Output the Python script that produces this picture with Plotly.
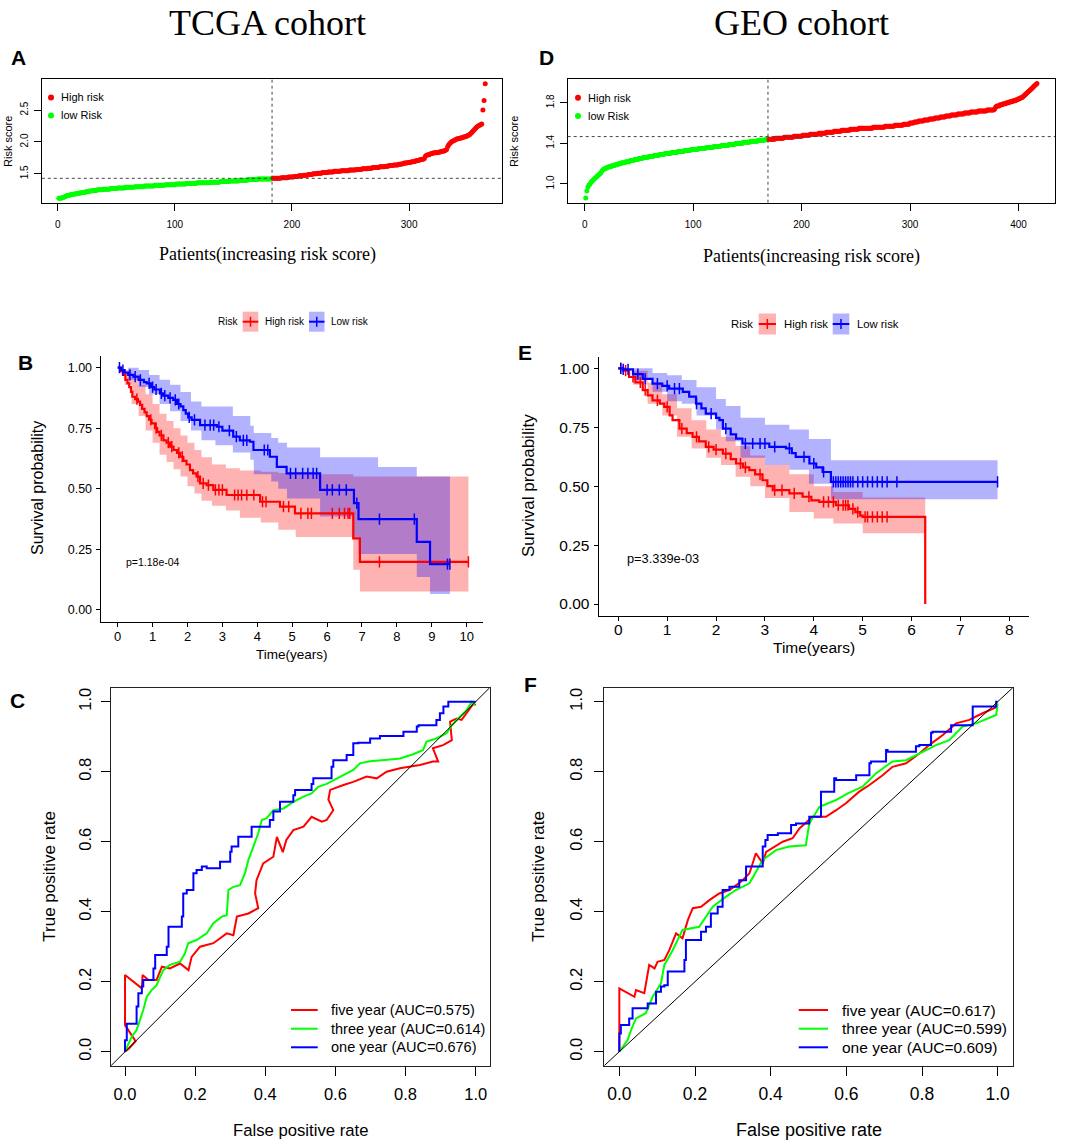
import plotly.graph_objects as go

# ============================ DATA ============================
# Risk score curves (sorted, one value per patient)
tcga_low_risk = [
    1.12,1.12,1.12,1.13,1.13,1.14,1.15,1.16,1.16,1.17,1.17,1.18,1.18,1.18,1.19,1.19,1.19,1.20,1.20,1.20,
    1.21,1.21,1.21,1.22,1.22,1.22,1.23,1.23,1.23,1.24,1.24,1.24,1.24,1.25,1.25,1.25,1.25,1.25,1.26,1.26,
    1.26,1.26,1.26,1.26,1.27,1.27,1.27,1.27,1.27,1.27,1.28,1.28,1.28,1.28,1.28,1.28,1.28,1.29,1.29,1.29,
    1.29,1.29,1.29,1.29,1.29,1.30,1.30,1.30,1.30,1.30,1.30,1.30,1.30,1.31,1.31,1.31,1.31,1.31,1.31,1.31,
    1.31,1.31,1.32,1.32,1.32,1.32,1.32,1.32,1.32,1.32,1.32,1.33,1.33,1.33,1.33,1.33,1.33,1.33,1.33,1.33,
    1.34,1.34,1.34,1.34,1.34,1.34,1.34,1.34,1.34,1.35,1.35,1.35,1.35,1.35,1.35,1.35,1.35,1.35,1.36,1.36,
    1.36,1.36,1.36,1.36,1.36,1.36,1.36,1.36,1.36,1.37,1.37,1.37,1.37,1.37,1.37,1.37,1.37,1.37,1.38,1.38,
    1.38,1.38,1.38,1.38,1.38,1.38,1.39,1.39,1.39,1.39,1.39,1.39,1.39,1.39,1.40,1.40,1.40,1.40,1.40,1.40,
    1.40,1.40,1.41,1.41,1.41,1.41,1.41,1.41,1.41,1.41,1.42,1.42,1.42,1.42,1.42,1.42,1.42,1.42,1.42,1.42,
    1.42,1.42,1.43]
tcga_high_risk = [
    1.43,1.43,1.43,1.43,1.43,1.43,1.43,1.44,1.44,1.44,1.44,1.44,1.44,1.45,1.45,1.45,1.45,1.45,1.46,1.46,
    1.46,1.46,1.47,1.47,1.47,1.47,1.48,1.48,1.48,1.48,1.49,1.49,1.49,1.49,1.50,1.50,1.50,1.50,1.51,1.51,
    1.51,1.51,1.52,1.52,1.52,1.52,1.52,1.53,1.53,1.53,1.53,1.53,1.54,1.54,1.54,1.54,1.54,1.54,1.55,1.55,
    1.55,1.55,1.55,1.55,1.55,1.56,1.56,1.56,1.56,1.56,1.56,1.57,1.57,1.57,1.57,1.57,1.58,1.58,1.58,1.58,
    1.58,1.59,1.59,1.59,1.59,1.60,1.60,1.60,1.60,1.60,1.60,1.61,1.61,1.61,1.61,1.61,1.62,1.62,1.62,1.63,
    1.63,1.63,1.63,1.64,1.64,1.64,1.64,1.65,1.65,1.65,1.66,1.66,1.67,1.67,1.67,1.68,1.68,1.68,1.69,1.69,
    1.69,1.70,1.70,1.71,1.71,1.72,1.72,1.73,1.73,1.74,1.78,1.79,1.80,1.80,1.81,1.82,1.82,1.83,1.83,1.83,
    1.83,1.84,1.84,1.85,1.85,1.86,1.86,1.87,1.88,1.93,1.96,1.98,2.00,2.01,2.02,2.03,2.04,2.05,2.05,2.06,
    2.06,2.07,2.07,2.08,2.08,2.09,2.10,2.11,2.12,2.14,2.16,2.18,2.20,2.22,2.24,2.25,2.26,2.27,2.28,2.50,
    2.65,2.91]
tcga_cutoff = 1.43

geo_low_risk = [
    0.86,0.93,0.97,0.99,1.00,1.02,1.03,1.04,1.05,1.06,1.07,1.08,1.09,1.10,1.11,1.13,1.14,1.15,1.15,1.16,
    1.16,1.17,1.17,1.17,1.18,1.18,1.18,1.19,1.19,1.19,1.20,1.20,1.20,1.21,1.21,1.21,1.21,1.22,1.22,1.22,
    1.22,1.23,1.23,1.23,1.23,1.24,1.24,1.24,1.24,1.25,1.25,1.25,1.25,1.26,1.26,1.26,1.26,1.26,1.27,1.27,
    1.27,1.27,1.27,1.28,1.28,1.28,1.28,1.28,1.29,1.29,1.29,1.29,1.29,1.30,1.30,1.30,1.30,1.30,1.30,1.31,
    1.31,1.31,1.31,1.31,1.31,1.32,1.32,1.32,1.32,1.32,1.32,1.33,1.33,1.33,1.33,1.33,1.33,1.34,1.34,1.34,
    1.34,1.34,1.34,1.34,1.35,1.35,1.35,1.35,1.35,1.35,1.35,1.36,1.36,1.36,1.36,1.36,1.36,1.36,1.37,1.37,
    1.37,1.37,1.37,1.37,1.37,1.38,1.38,1.38,1.38,1.38,1.38,1.38,1.39,1.39,1.39,1.39,1.39,1.39,1.40,1.40,
    1.40,1.40,1.40,1.40,1.40,1.41,1.41,1.41,1.41,1.41,1.41,1.41,1.42,1.42,1.42,1.42,1.42,1.42,1.42,1.43,
    1.43,1.43,1.43,1.43,1.43,1.43,1.44,1.44,1.44]
geo_high_risk = [
    1.44,1.44,1.44,1.44,1.44,1.44,1.45,1.45,1.45,1.45,1.45,1.45,1.45,1.45,1.46,1.46,1.46,1.46,1.46,1.46,
    1.46,1.46,1.46,1.47,1.47,1.47,1.47,1.47,1.47,1.47,1.47,1.48,1.48,1.48,1.48,1.48,1.48,1.48,1.49,1.49,
    1.49,1.49,1.49,1.49,1.49,1.49,1.50,1.50,1.50,1.50,1.50,1.50,1.50,1.51,1.51,1.51,1.51,1.51,1.51,1.51,
    1.52,1.52,1.52,1.52,1.52,1.52,1.52,1.53,1.53,1.53,1.53,1.53,1.53,1.53,1.53,1.54,1.54,1.54,1.54,1.54,
    1.54,1.54,1.54,1.55,1.55,1.55,1.55,1.55,1.55,1.55,1.55,1.55,1.55,1.55,1.55,1.55,1.56,1.56,1.56,1.56,
    1.56,1.56,1.56,1.56,1.56,1.56,1.56,1.57,1.57,1.57,1.57,1.57,1.57,1.57,1.57,1.57,1.58,1.58,1.58,1.58,
    1.58,1.58,1.58,1.58,1.59,1.59,1.59,1.59,1.59,1.59,1.60,1.60,1.60,1.60,1.61,1.61,1.61,1.61,1.62,1.62,
    1.62,1.62,1.62,1.63,1.63,1.63,1.63,1.63,1.64,1.64,1.64,1.64,1.64,1.65,1.65,1.65,1.65,1.65,1.66,1.66,
    1.66,1.66,1.66,1.67,1.67,1.67,1.67,1.67,1.68,1.68,1.68,1.68,1.68,1.68,1.69,1.69,1.69,1.69,1.69,1.69,
    1.70,1.70,1.70,1.70,1.70,1.70,1.71,1.71,1.71,1.71,1.71,1.71,1.71,1.72,1.72,1.72,1.72,1.72,1.72,1.72,
    1.72,1.73,1.73,1.73,1.73,1.73,1.73,1.73,1.74,1.76,1.77,1.77,1.77,1.78,1.78,1.78,1.79,1.79,1.79,1.80,
    1.80,1.80,1.81,1.81,1.81,1.82,1.82,1.82,1.83,1.83,1.84,1.84,1.85,1.85,1.86,1.87,1.88,1.89,1.90,1.91,
    1.92,1.93,1.94,1.95,1.96,1.97,1.98,1.99]
geo_cutoff = 1.467

risk_xticks_tcga = [0, 100, 200, 300]
risk_yticks_tcga = [1.5, 2.0, 2.5]
risk_xticks_geo = [0, 100, 200, 300, 400]
risk_yticks_geo = [1.0, 1.4, 1.8]

# Kaplan-Meier curves: (time in years, survival after step)
tcga_high_steps = [(0, 1.0), (0.08, 0.985), (0.15, 0.97), (0.22, 0.95), (0.28, 0.935), (0.33, 0.92),
    (0.38, 0.90), (0.42, 0.88), (0.50, 0.87), (0.58, 0.86), (0.64, 0.846), (0.70, 0.83), (0.77, 0.815),
    (0.83, 0.80), (0.90, 0.785), (0.97, 0.77), (1.07, 0.75), (1.13, 0.735), (1.20, 0.72), (1.31, 0.70),
    (1.40, 0.69), (1.50, 0.674), (1.60, 0.66), (1.70, 0.648), (1.79, 0.632), (1.88, 0.615), (1.97, 0.60),
    (2.07, 0.577), (2.16, 0.563), (2.26, 0.55), (2.36, 0.522), (2.55, 0.515), (2.74, 0.495), (3.12, 0.474),
    (4.08, 0.446), (4.65, 0.426), (5.08, 0.398), (6.75, 0.295), (6.94, 0.198)]
tcga_high_end = 10.05
tcga_high_censor = [0.55, 0.95, 1.1, 1.25, 1.45, 1.55, 1.75, 1.85, 2.3, 2.45, 2.6, 2.8, 2.9, 3.0, 3.35,
    3.45, 3.55, 3.7, 3.9, 4.15, 4.25, 4.75, 4.9, 5.25, 5.45, 5.55, 6.15, 6.35, 6.5, 6.6, 6.65, 7.5, 10.05]
tcga_low_steps = [(0, 1.0), (0.10, 0.99), (0.20, 0.98), (0.30, 0.97), (0.45, 0.963), (0.60, 0.95),
    (0.75, 0.94), (0.83, 0.935), (0.95, 0.92), (1.05, 0.91), (1.21, 0.894), (1.30, 0.885), (1.45, 0.875),
    (1.59, 0.867), (1.70, 0.85), (1.80, 0.84), (1.88, 0.825), (1.95, 0.81), (2.02, 0.795), (2.12, 0.784),
    (2.36, 0.763), (2.84, 0.756), (3.00, 0.74), (3.31, 0.715), (3.50, 0.70), (3.79, 0.694), (3.89, 0.66),
    (4.36, 0.632), (4.56, 0.59), (4.84, 0.563), (5.80, 0.495), (6.77, 0.44), (6.90, 0.374), (8.57, 0.28),
    (8.95, 0.188)]
tcga_low_end = 9.52
tcga_low_censor = [0.05, 0.15, 0.35, 0.5, 0.65, 0.9, 1.0, 1.1, 1.25, 1.35, 1.5, 1.65, 1.75, 2.05, 2.2,
    2.5, 2.65, 2.75, 2.9, 3.2, 3.4, 3.6, 3.7, 4.2, 4.3, 4.95, 5.1, 5.3, 5.45, 5.6, 5.7, 6.0, 6.15, 6.35,
    6.55, 6.85, 7.5, 8.5, 9.45, 9.52]
# confidence bands: (time, lower, upper)
tcga_high_band = [(0, 1.0, 1.0), (0.2, 0.93, 0.99), (0.4, 0.85, 0.96), (0.6, 0.80, 0.93), (0.8, 0.74, 0.89),
    (1.0, 0.69, 0.85), (1.2, 0.64, 0.81), (1.4, 0.61, 0.78), (1.6, 0.58, 0.75), (1.8, 0.55, 0.72),
    (2.0, 0.51, 0.69), (2.2, 0.48, 0.66), (2.4, 0.45, 0.63), (2.7, 0.43, 0.60), (3.1, 0.41, 0.585),
    (3.5, 0.38, 0.575), (4.1, 0.36, 0.57), (4.6, 0.33, 0.565), (5.1, 0.30, 0.56), (6.75, 0.165, 0.55),
    (6.94, 0.075, 0.55), (10.05, 0.075, 0.55)]
tcga_low_band = [(0, 1.0, 1.0), (0.3, 0.95, 1.0), (0.6, 0.92, 0.99), (0.9, 0.89, 0.97), (1.2, 0.85, 0.95),
    (1.5, 0.82, 0.93), (1.8, 0.78, 0.90), (2.1, 0.74, 0.86), (2.4, 0.70, 0.84), (2.8, 0.68, 0.84),
    (3.3, 0.65, 0.80), (3.8, 0.62, 0.76), (3.9, 0.56, 0.73), (4.4, 0.53, 0.71), (4.6, 0.50, 0.69),
    (4.85, 0.46, 0.67), (5.8, 0.385, 0.63), (6.77, 0.30, 0.63), (6.9, 0.23, 0.63), (7.46, 0.23, 0.59),
    (8.57, 0.135, 0.55), (8.95, 0.065, 0.55), (9.52, 0.065, 0.55)]

geo_high_steps = [(0, 1.0), (0.10, 0.99), (0.22, 0.963), (0.35, 0.94), (0.50, 0.907), (0.60, 0.885),
    (0.70, 0.864), (0.85, 0.85), (0.94, 0.836), (1.05, 0.80), (1.11, 0.78), (1.25, 0.744), (1.40, 0.725),
    (1.52, 0.709), (1.65, 0.69), (1.79, 0.667), (1.95, 0.655), (2.14, 0.638), (2.30, 0.615), (2.41, 0.596),
    (2.55, 0.58), (2.68, 0.568), (2.80, 0.55), (2.95, 0.525), (3.05, 0.50), (3.16, 0.483), (3.50, 0.469),
    (3.77, 0.455), (3.95, 0.44), (4.11, 0.433), (4.45, 0.419), (4.72, 0.404), (4.85, 0.39), (4.95, 0.375),
    (5.00, 0.37), (6.28, 0.0)]
geo_high_end = 6.28
geo_high_censor = [0.05, 0.15, 0.3, 0.45, 0.55, 0.8, 1.0, 1.3, 1.6, 1.85, 2.0, 2.2, 2.5, 2.6, 2.9, 3.2,
    3.35, 3.6, 3.9, 4.2, 4.3, 4.4, 4.5, 4.6, 4.65, 4.7, 4.8, 4.9, 5.05, 5.1, 5.2, 5.3, 5.4, 5.5]
geo_low_steps = [(0, 1.0), (0.10, 0.995), (0.30, 0.975), (0.50, 0.955), (0.70, 0.935), (0.90, 0.925),
    (1.04, 0.914), (1.32, 0.90), (1.45, 0.88), (1.59, 0.85), (1.70, 0.83), (1.79, 0.808), (2.00, 0.79),
    (2.07, 0.78), (2.14, 0.744), (2.30, 0.72), (2.41, 0.702), (2.54, 0.681), (3.09, 0.667), (3.43, 0.66),
    (3.55, 0.64), (3.63, 0.624), (3.91, 0.596), (4.05, 0.58), (4.18, 0.56), (4.35, 0.518)]
geo_low_end = 7.76
geo_low_censor = [0.05, 0.1, 0.2, 0.4, 0.55, 0.8, 1.0, 1.15, 1.25, 1.6, 1.9, 2.2, 2.6, 2.75, 2.9, 3.0,
    3.2, 3.5, 3.8, 4.0, 4.2, 4.4, 4.45, 4.5, 4.55, 4.6, 4.65, 4.7, 4.75, 4.8, 4.9, 5.0, 5.1, 5.2, 5.3,
    5.4, 5.5, 5.7, 7.76]
geo_high_band = [(0, 1.0, 1.0), (0.3, 0.93, 0.99), (0.6, 0.85, 0.94), (0.9, 0.80, 0.89), (1.2, 0.71, 0.83),
    (1.5, 0.66, 0.78), (1.8, 0.62, 0.74), (2.1, 0.59, 0.71), (2.4, 0.54, 0.67), (2.7, 0.50, 0.63),
    (3.0, 0.45, 0.59), (3.5, 0.39, 0.55), (4.0, 0.363, 0.50), (4.4, 0.342, 0.475), (5.0, 0.30, 0.452),
    (6.28, 0.30, 0.452)]
geo_low_band = [(0, 1.0, 1.0), (0.3, 0.95, 1.0), (0.7, 0.90, 0.98), (1.0, 0.86, 0.97), (1.3, 0.85, 0.95),
    (1.6, 0.80, 0.92), (2.0, 0.74, 0.87), (2.2, 0.69, 0.84), (2.5, 0.62, 0.79), (3.0, 0.59, 0.76),
    (3.5, 0.57, 0.74), (3.9, 0.51, 0.70), (4.35, 0.444, 0.61), (7.76, 0.444, 0.61)]
tcga_pvalue = "p=1.18e-04"
geo_pvalue = "p=3.339e-03"
km_xticks_tcga = list(range(0, 11))
km_xticks_geo = list(range(0, 9))
km_yticks = [0.0, 0.25, 0.5, 0.75, 1.0]

# ROC curves: (false positive rate, true positive rate)
tcga_roc_5y = [(0, 0), (0.012, 0.01), (0.03, 0.03), (0.0, 0.076), (0.0, 0.219), (0.048, 0.181), (0.05, 0.219),
    (0.067, 0.205), (0.09, 0.205), (0.105, 0.243), (0.128, 0.238), (0.157, 0.252), (0.181, 0.233),
    (0.19, 0.271), (0.214, 0.3), (0.252, 0.31), (0.29, 0.338), (0.309, 0.333), (0.319, 0.386),
    (0.352, 0.395), (0.38, 0.41), (0.371, 0.452), (0.375, 0.49), (0.394, 0.538), (0.423, 0.557),
    (0.433, 0.614), (0.45, 0.57), (0.46, 0.605), (0.48, 0.633), (0.509, 0.643), (0.532, 0.671),
    (0.561, 0.657), (0.575, 0.662), (0.594, 0.69), (0.58, 0.72), (0.585, 0.748), (0.623, 0.762),
    (0.651, 0.771), (0.689, 0.786), (0.718, 0.781), (0.746, 0.8), (0.784, 0.81), (0.841, 0.819),
    (0.878, 0.829), (0.893, 0.829), (0.878, 0.867), (0.907, 0.876), (0.932, 0.89), (0.927, 0.943),
    (0.946, 0.952), (0.96, 0.948), (0.979, 0.976), (0.994, 0.995), (1.0, 0.99)]
tcga_roc_3y = [(0, 0), (0.01, 0.024), (0.019, 0.043), (0.033, 0.062), (0.043, 0.09), (0.052, 0.119),
    (0.062, 0.157), (0.076, 0.176), (0.09, 0.19), (0.1, 0.214), (0.109, 0.233), (0.128, 0.248),
    (0.157, 0.257), (0.171, 0.281), (0.18, 0.31), (0.204, 0.319), (0.233, 0.338), (0.252, 0.367),
    (0.276, 0.386), (0.29, 0.39), (0.295, 0.462), (0.309, 0.471), (0.328, 0.476), (0.342, 0.51),
    (0.352, 0.548), (0.366, 0.586), (0.38, 0.624), (0.39, 0.662), (0.404, 0.667), (0.423, 0.69),
    (0.452, 0.695), (0.48, 0.714), (0.509, 0.729), (0.532, 0.738), (0.551, 0.757), (0.575, 0.765),
    (0.604, 0.781), (0.632, 0.795), (0.651, 0.805), (0.67, 0.824), (0.699, 0.83), (0.756, 0.835),
    (0.784, 0.838), (0.822, 0.85), (0.85, 0.862), (0.86, 0.886), (0.888, 0.895), (0.917, 0.91),
    (0.932, 0.933), (0.955, 0.957), (0.974, 0.976), (0.989, 1.0), (0.998, 0.99)]
tcga_roc_1y = [(0, 0), (0.005, 0.033), (0.014, 0.08), (0.033, 0.08), (0.038, 0.129), (0.048, 0.167),
    (0.052, 0.186), (0.067, 0.205), (0.081, 0.205), (0.086, 0.238), (0.1, 0.276), (0.119, 0.276),
    (0.124, 0.3), (0.133, 0.357), (0.162, 0.357), (0.166, 0.386), (0.176, 0.452), (0.195, 0.462),
    (0.204, 0.51), (0.219, 0.519), (0.233, 0.529), (0.271, 0.524), (0.28, 0.543), (0.3, 0.543),
    (0.304, 0.571), (0.323, 0.586), (0.328, 0.614), (0.361, 0.614), (0.366, 0.643), (0.413, 0.643),
    (0.423, 0.662), (0.442, 0.686), (0.447, 0.714), (0.48, 0.714), (0.485, 0.733), (0.532, 0.748),
    (0.537, 0.765), (0.556, 0.781), (0.589, 0.781), (0.594, 0.814), (0.632, 0.833), (0.651, 0.848),
    (0.665, 0.881), (0.699, 0.883), (0.727, 0.895), (0.737, 0.902), (0.794, 0.902), (0.798, 0.914),
    (0.832, 0.914), (0.837, 0.929), (0.888, 0.933), (0.898, 0.948), (0.908, 0.967), (0.922, 0.986),
    (0.946, 1.0), (1.0, 1.0)]
geo_roc_5y = [(0, 0), (0.0, 0.181), (0.04, 0.157), (0.044, 0.176), (0.066, 0.167), (0.079, 0.248),
    (0.093, 0.238), (0.101, 0.257), (0.119, 0.262), (0.132, 0.29), (0.15, 0.338), (0.167, 0.324),
    (0.181, 0.376), (0.194, 0.41), (0.216, 0.414), (0.238, 0.433), (0.264, 0.452), (0.291, 0.462),
    (0.322, 0.486), (0.344, 0.51), (0.361, 0.567), (0.379, 0.538), (0.388, 0.571), (0.432, 0.6),
    (0.458, 0.61), (0.476, 0.638), (0.511, 0.671), (0.546, 0.671), (0.573, 0.69), (0.599, 0.71),
    (0.634, 0.743), (0.661, 0.762), (0.696, 0.79), (0.722, 0.814), (0.758, 0.824), (0.793, 0.852),
    (0.819, 0.876), (0.855, 0.905), (0.89, 0.938), (0.925, 0.948), (0.96, 0.967), (1.0, 0.986)]
geo_roc_3y = [(0, 0), (0.009, 0.014), (0.022, 0.033), (0.031, 0.062), (0.044, 0.095), (0.07, 0.11),
    (0.088, 0.157), (0.11, 0.195), (0.119, 0.248), (0.141, 0.29), (0.167, 0.348), (0.211, 0.357),
    (0.247, 0.414), (0.282, 0.443), (0.308, 0.462), (0.344, 0.481), (0.379, 0.548), (0.414, 0.576),
    (0.449, 0.586), (0.493, 0.59), (0.502, 0.652), (0.529, 0.7), (0.573, 0.719), (0.604, 0.738),
    (0.643, 0.757), (0.678, 0.795), (0.722, 0.829), (0.758, 0.833), (0.793, 0.852), (0.837, 0.876),
    (0.872, 0.89), (0.907, 0.929), (0.943, 0.938), (0.996, 0.962), (1.0, 0.995)]
geo_roc_1y = [(0, 0), (0.004, 0.052), (0.011, 0.076), (0.026, 0.076), (0.035, 0.095), (0.044, 0.124),
    (0.075, 0.124), (0.097, 0.138), (0.11, 0.171), (0.119, 0.186), (0.128, 0.19), (0.137, 0.229),
    (0.172, 0.229), (0.176, 0.262), (0.189, 0.319), (0.216, 0.319), (0.229, 0.343), (0.242, 0.357),
    (0.26, 0.395), (0.273, 0.414), (0.291, 0.462), (0.317, 0.471), (0.335, 0.49), (0.344, 0.529),
    (0.379, 0.529), (0.386, 0.586), (0.392, 0.605), (0.419, 0.619), (0.454, 0.624), (0.467, 0.648),
    (0.502, 0.652), (0.533, 0.671), (0.536, 0.743), (0.568, 0.743), (0.573, 0.781), (0.626, 0.776),
    (0.63, 0.79), (0.661, 0.79), (0.665, 0.824), (0.705, 0.829), (0.709, 0.862), (0.784, 0.857),
    (0.793, 0.873), (0.824, 0.876), (0.828, 0.911), (0.877, 0.914), (0.881, 0.933), (0.934, 0.933),
    (0.947, 0.986), (0.996, 0.986), (1.0, 1.0)]
tcga_auc = {"five": 0.575, "three": 0.614, "one": 0.676}
geo_auc = {"five": 0.617, "three": 0.599, "one": 0.609}
roc_ticks = [0.0, 0.2, 0.4, 0.6, 0.8, 1.0]

# ============================ STYLE / LAYOUT ============================
W, H = 1072, 1142
def fx(p): return p / W
def fy(p): return 1 - p / H

RED, GREEN, BLUE = "#FF0000", "#00FF00", "#0000FF"
RED_FILL, BLUE_FILL = "rgba(255,0,0,0.30)", "rgba(0,0,255,0.30)"
SANS = "Liberation Sans, Arial, sans-serif"
SERIF = "Liberation Serif, Times New Roman, serif"

fig = go.Figure()
annotations, shapes = [], []

def text(px, py, s, size, family=SANS, xanchor="center", angle=0, bold=False):
    annotations.append(dict(x=fx(px), y=fy(py), xref="paper", yref="paper", text=f"<b>{s}</b>" if bold else s,
                            showarrow=False, xanchor=xanchor, yanchor="middle", textangle=angle,
                            font=dict(size=size, family=family, color="black")))

def base_axis(**kw):
    d = dict(showgrid=False, zeroline=False, ticks="outside", tickcolor="black", tickwidth=1,
             showline=True, linecolor="black", linewidth=1)
    d.update(kw)
    return d

# ---------- risk score panels ----------
def risk_panel(low, high, cutoff, xa, ya):
    n_low, n = len(low), len(low) + len(high)
    fig.add_trace(go.Scatter(x=list(range(1, n_low + 1)), y=low, mode="markers",
                             marker=dict(color=GREEN, size=5, line=dict(width=0)), xaxis=xa, yaxis=ya))
    fig.add_trace(go.Scatter(x=list(range(n_low + 1, n + 1)), y=high, mode="markers",
                             marker=dict(color=RED, size=5, line=dict(width=0)), xaxis=xa, yaxis=ya))
    shapes.append(dict(type="line", xref=xa, yref=f"{ya} domain", x0=n_low, x1=n_low, y0=0, y1=1,
                       line=dict(color="#444", width=1, dash="3px,3px")))
    shapes.append(dict(type="line", xref=f"{xa} domain", yref=ya, x0=0, x1=1, y0=cutoff, y1=cutoff,
                       line=dict(color="#444", width=1, dash="3px,3px")))
    allv = low + high
    lo, hi = min(allv), max(allv)
    xr = [1 - 0.04 * (n - 1), n + 0.04 * (n - 1)]
    yr = [lo - 0.04 * (hi - lo), hi + 0.04 * (hi - lo)]
    return xr, yr

xrA, yrA = risk_panel(tcga_low_risk, tcga_high_risk, tcga_cutoff, "x", "y")
xrD, yrD = risk_panel(geo_low_risk, geo_high_risk, geo_cutoff, "x2", "y2")

risk_tick = dict(family=SANS, size=10, color="black")
layout_axes = {}
layout_axes["xaxis"] = base_axis(domain=[fx(41.8), fx(502.3)], range=xrA, anchor="y", tickvals=risk_xticks_tcga,
                                 ticklen=7, mirror=True, tickfont=risk_tick, ticklabelstandoff=5)
layout_axes["yaxis"] = base_axis(domain=[fy(202.7), fy(79.3)], range=yrA, anchor="x", tickvals=risk_yticks_tcga,
                                 tickformat=".1f", tickangle=-90, ticklen=7, mirror=True, tickfont=risk_tick,
                                 ticklabelstandoff=2)
layout_axes["xaxis2"] = base_axis(domain=[fx(567.7), fx(1055)], range=xrD, anchor="y2", tickvals=risk_xticks_geo,
                                  ticklen=7, mirror=True, tickfont=risk_tick, ticklabelstandoff=5)
layout_axes["yaxis2"] = base_axis(domain=[fy(202.7), fy(79.0)], range=yrD, anchor="x2", tickvals=risk_yticks_geo,
                                  tickformat=".1f", tickangle=-90, ticklen=7, mirror=True, tickfont=risk_tick,
                                  ticklabelstandoff=2)

def risk_legend(cx, cy1, cy2, tx):
    for cy, col in ((cy1, RED), (cy2, GREEN)):
        shapes.append(dict(type="circle", xref="paper", yref="paper", x0=fx(cx - 3), x1=fx(cx + 3),
                           y0=fy(cy + 3), y1=fy(cy - 3), fillcolor=col, line=dict(width=0)))
    text(tx, cy1, "High risk", 11, SANS, xanchor="left")
    text(tx, cy2, "low Risk", 11, SANS, xanchor="left")

risk_legend(51, 97.5, 115.5, 59)
risk_legend(578, 97.7, 116, 586)
text(8, 142, "Risk score", 11, SANS, angle=-90)
text(514, 142, "Risk score", 11, SANS, angle=-90)
text(267, 255, "Patients(increasing risk score)", 18, SERIF)
text(811, 256.5, "Patients(increasing risk score)", 18, SERIF)

# ---------- Kaplan-Meier panels ----------
def surv_at(steps, t):
    s = steps[0][1]
    for tt, ss in steps:
        if tt <= t:
            s = ss
        else:
            break
    return s

def km_panel(groups, xa, ya):
    for band, fill in ((groups[0][3], RED_FILL), (groups[1][3], BLUE_FILL)):
        t = [b[0] for b in band]
        fig.add_trace(go.Scatter(x=t, y=[b[1] for b in band], mode="lines", line=dict(width=0, shape="hv"),
                                 xaxis=xa, yaxis=ya))
        fig.add_trace(go.Scatter(x=t, y=[b[2] for b in band], mode="lines", line=dict(width=0, shape="hv"),
                                 fill="tonexty", fillcolor=fill, xaxis=xa, yaxis=ya))
    for steps, end, cens, band, col in groups:
        xs = [s[0] for s in steps] + [end]
        ys = [s[1] for s in steps] + [steps[-1][1]]
        fig.add_trace(go.Scatter(x=xs, y=ys, mode="lines", line=dict(color=col, width=2.2, shape="hv"),
                                 xaxis=xa, yaxis=ya))
        fig.add_trace(go.Scatter(x=cens, y=[surv_at(steps, c) for c in cens], mode="markers",
                                 marker=dict(symbol="line-ns-open", size=8, color=col, line=dict(width=1.5, color=col)),
                                 xaxis=xa, yaxis=ya))

km_panel([(tcga_high_steps, tcga_high_end, tcga_high_censor, tcga_high_band, RED),
          (tcga_low_steps, tcga_low_end, tcga_low_censor, tcga_low_band, BLUE)], "x3", "y3")
km_panel([(geo_high_steps, geo_high_end, geo_high_censor, geo_high_band, RED),
          (geo_low_steps, geo_low_end, geo_low_censor, geo_low_band, BLUE)], "x4", "y4")

layout_axes["xaxis3"] = base_axis(domain=[fx(100.7), fx(483.3)], range=[-0.487, 10.476], anchor="y3",
                                  tickvals=km_xticks_tcga, ticklen=4, linewidth=1.3,
                                  tickfont=dict(family=SANS, size=13, color="black"), ticklabelstandoff=-2)
layout_axes["yaxis3"] = base_axis(domain=[fy(621.8), fy(355.6)], range=[-0.05, 1.05], anchor="x3",
                                  tickvals=km_yticks, tickformat=".2f", ticklen=4, linewidth=1.3,
                                  tickfont=dict(family=SANS, size=12.5, color="black"), ticklabelstandoff=1)
layout_axes["xaxis4"] = base_axis(domain=[fx(598.7), fx(1028.7)], range=[-0.401, 8.397], anchor="y4",
                                  tickvals=km_xticks_geo, ticklen=4, linewidth=1.3,
                                  tickfont=dict(family=SANS, size=15.5, color="black"), ticklabelstandoff=-5)
layout_axes["yaxis4"] = base_axis(domain=[fy(615.8), fy(356.5)], range=[-0.05, 1.05], anchor="x4",
                                  tickvals=km_yticks, tickformat=".2f", ticklen=4, linewidth=1.3,
                                  tickfont=dict(family=SANS, size=15.5, color="black"), ticklabelstandoff=1)

def km_legend(cy, risk_cx, red_key, high_x, blue_key, low_x, size, kh):
    text(risk_cx, cy, "Risk", size, SANS)
    for (k0, k1), col, fill in ((red_key, RED, RED_FILL), (blue_key, BLUE, BLUE_FILL)):
        shapes.append(dict(type="rect", xref="paper", yref="paper", x0=fx(k0), x1=fx(k1),
                           y0=fy(cy + kh), y1=fy(cy - kh), fillcolor=fill, line=dict(width=0)))
        shapes.append(dict(type="line", xref="paper", yref="paper", x0=fx(k0), x1=fx(k1), y0=fy(cy), y1=fy(cy),
                           line=dict(color=col, width=2)))
        km = (k0 + k1) / 2
        shapes.append(dict(type="line", xref="paper", yref="paper", x0=fx(km), x1=fx(km),
                           y0=fy(cy - 5), y1=fy(cy + 5), line=dict(color=col, width=1.5)))
    text(high_x, cy, "High risk", size, SANS, xanchor="left")
    text(low_x, cy, "Low risk", size, SANS, xanchor="left")

km_legend(321.7, 227.5, (242.7, 258.3), 263, (309, 324.5), 329, 10, 10)
km_legend(324, 742, (758.7, 776), 781.5, (832.7, 849.3), 855, 11.3, 10.5)
text(37, 488, "Survival probability", 16, SANS, angle=-90)
text(529, 486, "Survival probability", 17, SANS, angle=-90)
text(291.7, 654, "Time(years)", 13.5, SANS)
text(814, 647.5, "Time(years)", 15.5, SANS)
text(124, 561.7, tcga_pvalue, 10.5, SANS, xanchor="left")
text(625, 558.3, geo_pvalue, 12.8, SANS, xanchor="left")

# ---------- ROC panels ----------
def roc_panel(curves, xa, ya):
    shapes.append(dict(type="line", xref=xa, yref=ya, x0=-0.04, y0=-0.04, x1=1.04, y1=1.04,
                       line=dict(color="black", width=1)))
    for pts, col, shp in curves:
        fig.add_trace(go.Scatter(x=[p[0] for p in pts], y=[p[1] for p in pts], mode="lines",
                                 line=dict(color=col, width=2, shape=shp), xaxis=xa, yaxis=ya))

roc_panel([(tcga_roc_5y, RED, "linear"), (tcga_roc_3y, GREEN, "linear"), (tcga_roc_1y, BLUE, "vh")], "x5", "y5")
roc_panel([(geo_roc_5y, RED, "linear"), (geo_roc_3y, GREEN, "linear"), (geo_roc_1y, BLUE, "vh")], "x6", "y6")

roc_ticktext = [f"{v:.1f}" for v in roc_ticks]
layout_axes["xaxis5"] = base_axis(domain=[fx(111.0), fx(489.7)], range=[-0.04, 1.04], anchor="y5",
                                  tickvals=roc_ticks, ticktext=roc_ticktext, ticklen=9, mirror=True,
                                  linecolor="#222", tickfont=dict(family=SANS, size=16.5, color="black"),
                                  ticklabelstandoff=4)
layout_axes["yaxis5"] = base_axis(domain=[fy(1065.7), fy(687.7)], range=[-0.04, 1.04], anchor="x5",
                                  tickvals=roc_ticks, ticktext=roc_ticktext, ticklen=9, mirror=True, tickangle=-90,
                                  linecolor="#222", tickfont=dict(family=SANS, size=16.5, color="black"),
                                  ticklabelstandoff=3)
layout_axes["xaxis6"] = base_axis(domain=[fx(604.2), fx(1012.8)], range=[-0.04, 1.04], anchor="y6",
                                  tickvals=roc_ticks, ticktext=roc_ticktext, ticklen=9, mirror=True,
                                  linecolor="#222", tickfont=dict(family=SANS, size=17.5, color="black"),
                                  ticklabelstandoff=3)
layout_axes["yaxis6"] = base_axis(domain=[fy(1065.7), fy(687.7)], range=[-0.04, 1.04], anchor="x6",
                                  tickvals=roc_ticks, ticktext=roc_ticktext, ticklen=9, mirror=True, tickangle=-90,
                                  linecolor="#222", tickfont=dict(family=SANS, size=16.5, color="black"),
                                  ticklabelstandoff=6)

def roc_legend(auc, x0, x1, tx, size):
    rows = [("five year", auc["five"], RED), ("three year", auc["three"], GREEN), ("one year", auc["one"], BLUE)]
    for (lab, v, col), cy in zip(rows, (1010, 1028.7, 1047.3)):
        shapes.append(dict(type="line", xref="paper", yref="paper", x0=fx(x0), x1=fx(x1), y0=fy(cy), y1=fy(cy),
                           line=dict(color=col, width=2)))
        text(tx, cy, f"{lab} (AUC={v:.3f})", size, SANS, xanchor="left")

roc_legend(tcga_auc, 291, 317.7, 329, 14.5)
roc_legend(geo_auc, 798.7, 828, 840, 15.5)
text(50, 876.7, "True positive rate", 17, SANS, angle=-90)
text(539, 876.7, "True positive rate", 17, SANS, angle=-90)
text(300, 1130, "False positive rate", 16.7, SANS)
text(809, 1130, "False positive rate", 18, SANS)

# ---------- titles & panel letters ----------
text(267, 23, "TCGA cohort", 36, SERIF)
text(801, 23, "GEO cohort", 36, SERIF)
for lab, px, py in (("A", 18, 57.5), ("D", 546, 57.5), ("B", 25, 363), ("E", 525, 353),
                    ("C", 17.5, 700), ("F", 530, 684)):
    text(px, py, lab, 21, SANS, bold=True)

fig.update_layout(width=W, height=H, margin=dict(l=0, r=0, t=0, b=0), paper_bgcolor="white",
                  plot_bgcolor="white", showlegend=False, hovermode=False,
                  annotations=annotations, shapes=shapes, **layout_axes)
fig.write_html("out.html", config={"displayModeBar": False},
               post_script="document.body.style.margin='0px';")
